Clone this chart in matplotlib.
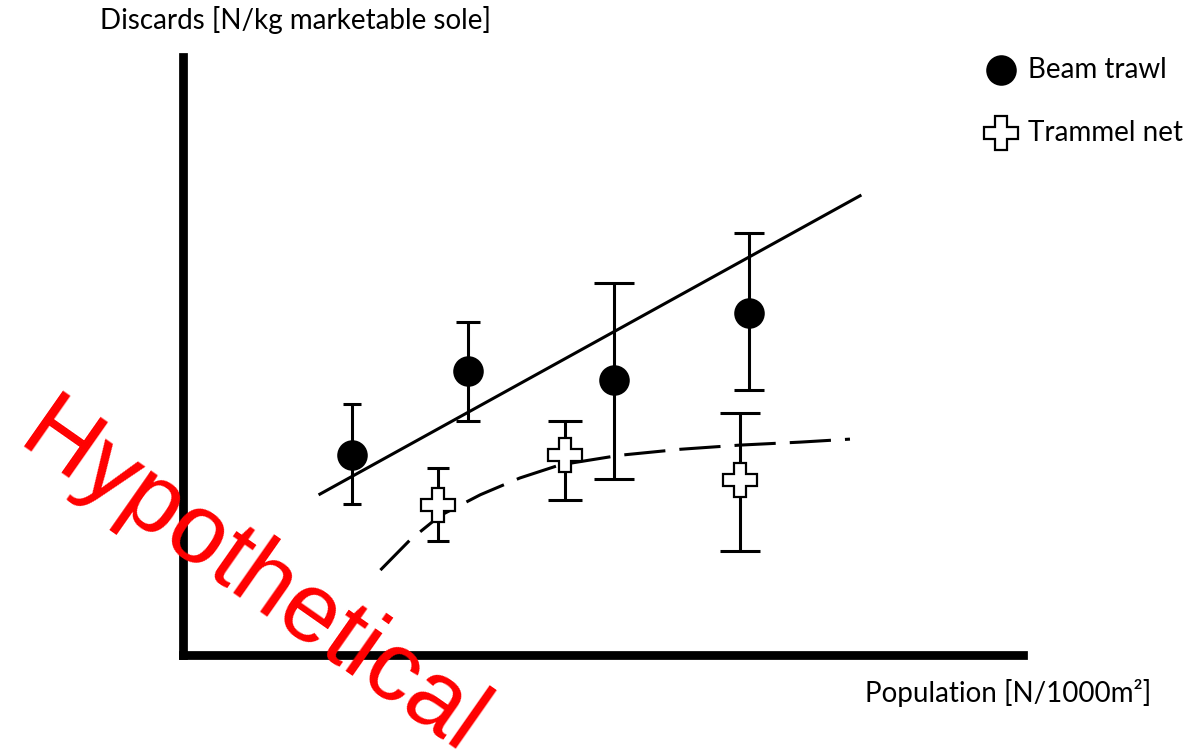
import numpy as np
import matplotlib.pyplot as plt

# Beam trawl: means with error bars
beam_x = [2.01, 3.39, 5.13, 6.74]
beam_y = [3.34, 4.75, 4.60, 5.72]
beam_lo = [2.53, 3.91, 2.94, 4.43]
beam_hi = [4.20, 5.57, 6.22, 7.06]

# Trammel net: means with error bars
tram_x = [3.04, 4.55, 6.63]
tram_y = [2.51, 3.34, 2.93]
tram_lo = [1.91, 2.59, 1.74]
tram_hi = [3.13, 3.91, 4.05]

# trend lines
beam_fit_x = [1.63, 8.06]
beam_fit_y = [2.69, 7.68]
tram_fit_x = [2.35, 2.70, 3.06, 3.54, 4.01, 4.49, 5.20, 5.92, 6.63, 7.35, 7.94]
tram_fit_y = [1.42, 1.92, 2.33, 2.68, 2.96, 3.18, 3.34, 3.44, 3.51, 3.56, 3.61]

# cap half-widths (points) drawn by hand, so not all equal
beam_caps = [6.5, 8.5, 14.5, 11]
tram_caps = [8, 12.5, 14.5]

W, H = 1191, 755
fig = plt.figure(figsize=(W / 100, H / 100), dpi=100)
ax = fig.add_axes([183 / W, (H - 655) / H, (1023 - 183) / W, (655 - 57) / H])
ax.set_xlim(0, 10)
ax.set_ylim(0, 10)
for s in ['top', 'right']:
    ax.spines[s].set_visible(False)
for s in ['left', 'bottom']:
    ax.spines[s].set_linewidth(6.3)
    ax.spines[s].set_capstyle('projecting')
ax.set_xticks([])
ax.set_yticks([])

ax.plot(beam_fit_x, beam_fit_y, color='black', lw=2.2, clip_on=False)
ax.plot(tram_fit_x, tram_fit_y, color='black', lw=2.2, dashes=(13.5, 4.6),
        clip_on=False)

for x, y, lo, hi, cap in zip(beam_x, beam_y, beam_lo, beam_hi, beam_caps):
    ax.errorbar([x], [y], yerr=[[y - lo], [hi - y]], fmt='none', ecolor='black',
                elinewidth=2.2, capsize=cap, capthick=2.2)
for x, y, lo, hi, cap in zip(tram_x, tram_y, tram_lo, tram_hi, tram_caps):
    ax.errorbar([x], [y], yerr=[[y - lo], [hi - y]], fmt='none', ecolor='black',
                elinewidth=2.2, capsize=cap, capthick=2.2)

ax.plot(beam_x, beam_y, 'o', ms=22, color='black', mew=0, zorder=3)
ax.plot(tram_x, tram_y, 'P', ms=25, mfc='white', mec='black', mew=1.6, zorder=3)

font = 'Lato'
fs = 20
fig.text(100 / W, 1 - 20 / H, 'Discards [N/kg marketable sole]', fontsize=fs,
         family=font, va='center', ha='left')
fig.text(865 / W, 1 - 693 / H, 'Population [N/1000m²]', fontsize=fs,
         family=font, va='center', ha='left')

# legend
fig.lines.append(plt.Line2D([1001 / W], [1 - 70 / H], marker='o', ms=22,
                            color='black', mew=0, transform=fig.transFigure))
fig.lines.append(plt.Line2D([1001 / W], [1 - 133 / H], marker='P', ms=24,
                            mfc='white', mec='black', mew=1.6,
                            transform=fig.transFigure))
fig.text(1028 / W, 1 - 70 / H, 'Beam trawl', fontsize=fs, family=font, va='center')
fig.text(1028 / W, 1 - 133 / H, 'Trammel net', fontsize=fs, family=font, va='center')

fig.text(238 / W, 1 - 601 / H, 'Hypothetical', fontsize=71, color='red',
         family='Liberation Sans', rotation=-35, ha='center', va='baseline',
         rotation_mode='anchor')

fig.savefig('out.png', dpi=100)
